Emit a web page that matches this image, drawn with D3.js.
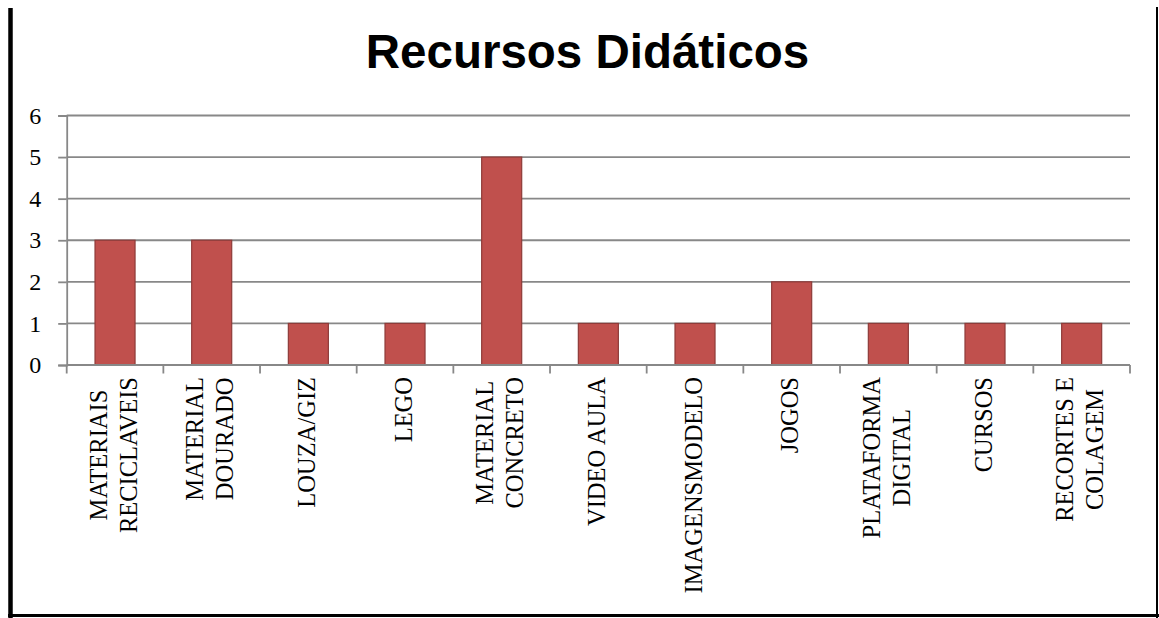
<!DOCTYPE html>
<html>
<head>
<meta charset="utf-8">
<script src="https://cdn.jsdelivr.net/npm/d3@7"></script>
<style>
  html, body { margin: 0; padding: 0; background: #fff; }
  svg { display: block; }
</style>
</head>
<body>
<svg id="chart" width="1159" height="618"></svg>
<script>
// Recursos didáticos citados e quantidade de menções
const categories = [
  ["MATERIAIS", "RECICLAVEIS"],
  ["MATERIAL", "DOURADO"],
  ["LOUZA/GIZ"],
  ["LEGO"],
  ["MATERIAL", "CONCRETO"],
  ["VIDEO AULA"],
  ["IMAGENSMODELO"],
  ["JOGOS"],
  ["PLATAFORMA", "DIGITAL"],
  ["CURSOS"],
  ["RECORTES E", "COLAGEM"]
];
const values = [3, 3, 1, 1, 5, 1, 1, 2, 1, 1, 1];
const yTicks = [0, 1, 2, 3, 4, 5, 6];
const chartTitle = "Recursos Didáticos";

const svg = d3.select("#chart");
const W = 1159, H = 618;
const plot = { left: 66.7, right: 1130, top: 115.5, bottom: 365 };

const keys = categories.map(d => d.join(" "));
const x = d3.scaleBand().domain(keys).range([plot.left, plot.right]).paddingInner(0.586).paddingOuter(0.293);
const xb = d3.scaleBand().domain(keys).range([plot.left, plot.right]);
const y = d3.scaleLinear().domain([0, 6]).range([plot.bottom, plot.top]);

const grid = "#888888";
const serif = "'Liberation Serif', 'Times New Roman', serif";

// outer frame
svg.append("line").attr("x1", 10.5).attr("x2", 10.5).attr("y1", 8).attr("y2", 618)
  .attr("stroke", "#000").attr("stroke-width", 4.5);
svg.append("line").attr("x1", 8).attr("x2", W).attr("y1", 615.5).attr("y2", 615.5)
  .attr("stroke", "#000").attr("stroke-width", 3);
svg.append("line").attr("x1", 1157).attr("x2", 1157).attr("y1", 7).attr("y2", 618)
  .attr("stroke", "#000").attr("stroke-width", 2);

// title
svg.append("text").attr("x", 587.5).attr("y", 67.5)
  .attr("text-anchor", "middle")
  .style("font-family", "'Liberation Sans', Arial, sans-serif")
  .style("font-weight", "bold").style("font-size", "47.5px")
  .text(chartTitle);

// horizontal gridlines
svg.append("g").selectAll("line").data(yTicks.filter(t => t > 0)).join("line")
  .attr("x1", plot.left).attr("x2", plot.right)
  .attr("y1", d => y(d)).attr("y2", d => y(d))
  .attr("stroke", grid).attr("stroke-width", 1.8);

// y axis
const yAxis = svg.append("g").attr("transform", `translate(${plot.left},0)`)
  .call(d3.axisLeft(y).tickValues(yTicks).tickSize(8.5).tickPadding(17).tickFormat(d3.format("d")));
yAxis.select(".domain").attr("stroke", grid).attr("stroke-width", 1.8);
yAxis.selectAll(".tick line").attr("stroke", grid).attr("stroke-width", 1.8);
yAxis.selectAll(".tick text").attr("fill", "#000")
  .style("font-family", serif).style("font-size", "24px");

// bars
svg.append("g").selectAll("rect").data(values).join("rect")
  .attr("x", (d, i) => x(keys[i]))
  .attr("width", x.bandwidth())
  .attr("y", d => y(d))
  .attr("height", d => y(0) - y(d))
  .attr("fill", "#C0504D")
  .attr("stroke", "#8E3B39").attr("stroke-width", 1.2);

// x axis baseline and boundary ticks
svg.append("line").attr("x1", plot.left).attr("x2", plot.right)
  .attr("y1", y(0)).attr("y2", y(0)).attr("stroke", grid).attr("stroke-width", 1.8);
const bounds = keys.map(k => xb(k)).concat([plot.right]);
svg.append("g").selectAll("line").data(bounds).join("line")
  .attr("x1", d => d).attr("x2", d => d)
  .attr("y1", y(0)).attr("y2", y(0) + 8.5)
  .attr("stroke", grid).attr("stroke-width", 1.8);

// rotated category labels, block aligned to the axis, lines centred within block
const labelTop = 377;
const lineGap = 30;
const lg = svg.append("g");
categories.forEach((lines, i) => {
  const cx = xb(keys[i]) + xb.bandwidth() / 2 - 1.5;
  const texts = lines.map(s => lg.append("text")
    .style("font-family", serif).style("font-size", "24.5px").attr("fill", "#000")
    .attr("text-anchor", "middle").text(s));
  const maxLen = d3.max(texts, t => t.node().getComputedTextLength());
  const cy = labelTop + maxLen / 2;
  const n = lines.length;
  texts.forEach((t, j) => {
    const off = (j - (n - 1) / 2) * lineGap;
    const bx = cx + off + 8; // baseline sits right of glyph centre
    t.attr("transform", `translate(${bx},${cy}) rotate(-90)`);
  });
});
</script>
</body>
</html>
